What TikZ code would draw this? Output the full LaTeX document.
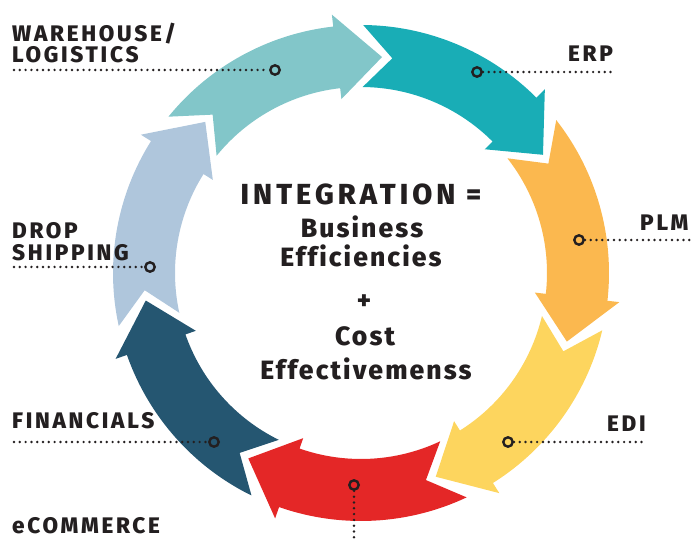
\documentclass[tikz,border=0pt]{standalone}
\usepackage{fontspec}
\setmainfont{Fira Sans}
\newfontfamily\lblfont{Fira Sans}[BoldFont={Fira Sans ExtraBold}, LetterSpace=12, Ligatures=NoCommon]
\newfontfamily\ctrfont{Fira Sans}[BoldFont={Fira Sans ExtraBold}, LetterSpace=8, Ligatures=NoCommon]
\newfontfamily\ctrcapfont{Fira Sans}[BoldFont={Fira Sans ExtraBold}, LetterSpace=14, Ligatures=NoCommon]
\definecolor{ink}{HTML}{231F20}
\definecolor{segWarehouse}{HTML}{82C6C9}
\definecolor{segErp}{HTML}{19ADB6}
\definecolor{segPlm}{HTML}{FBB84F}
\definecolor{segEdi}{HTML}{FDD55E}
\definecolor{segShop}{HTML}{E42727}
\definecolor{segFin}{HTML}{255671}
\definecolor{segDrop}{HTML}{AFC6DC}
% one curved arrow of the ring: #1 = tail angle, #2 = colour (runs clockwise)
\newcommand\ringseg[2]{%
  \fill[#2] (#1:248) arc[start angle=#1, end angle=#1-44.5, radius=248]
    -- (#1-44.5:260) -- (#1-56.5:217) -- (#1-44.5:175) -- (#1-44.5:186)
    arc[start angle=#1-44.5, end angle=#1, radius=186]
    -- (#1-7.8:217) -- cycle;}
\begin{document}
\begin{tikzpicture}[x=1pt,y=1pt,
  leader/.style={draw=ink, line width=2.7pt, line cap=round, dash pattern=on 0pt off 5.8pt},
  ringdot/.style={circle, draw=ink, line width=2.4pt, minimum size=9.4pt, inner sep=0pt},
  lbl/.style={anchor=base west, inner sep=0pt, text=ink, font=\lblfont\bfseries\fontsize{22.5}{22.5}\selectfont},
  ctr/.style={anchor=base, inner sep=0pt, text=ink, font=\ctrfont\bfseries\fontsize{26.5}{26.5}\selectfont},
  ctrbig/.style={ctr, font=\ctrcapfont\bfseries\fontsize{29}{29}\selectfont}]
\useasboundingbox (0,0) rectangle (691,544);
\coordinate (C) at (361,271);

% the ring of seven arrows
\begin{scope}[shift={(C)}]
  \ringseg{89.5}{segErp}
  \ringseg{38.07}{segPlm}
  \ringseg{-13.36}{segEdi}
  \ringseg{-64.79}{segShop}
  \ringseg{-116.21}{segFin}
  \ringseg{-167.64}{segDrop}
  \ringseg{140.93}{segWarehouse}
\end{scope}

% centre statement
\node[ctrbig] (tInt)  at (361,339) {INTEGRATION =};
\node[ctr]    (tBus)  at (362,306) {Business};
\node[ctr]    (tEff)  at (361,277) {Efficiencies};
\node[ctr, anchor=center] (tPlus) at (364,242) {+};
\node[ctr]    (tCost) at (365,198) {Cost};
\node[ctr]    (tCe)   at (366,164) {Effectivemenss};

% labels
\node[lbl, text depth=0pt] (lWh1) at (12,502) {WAREHOUSE/};
\node[lbl] (lWh2) at (12,481) {LOGISTICS};
\node[lbl] (lErp) at (568,482) {ERP};
\node[lbl] (lPlm) at (640,313) {PLM};
\node[lbl] (lDr1) at (12,305) {DROP};
\node[lbl] (lDr2) at (12,283) {SHIPPING};
\node[lbl] (lFin) at (12,116) {FINANCIALS};
\node[lbl] (lEdi) at (607,112) {EDI};
\node[lbl] (lEc)  at (12,11)  {eCOMMERCE};

% markers on the ring
\node[ringdot] (dWh)  at (275,474) {};
\node[ringdot] (dErp) at (477,472) {};
\node[ringdot] (dPlm) at (579,304) {};
\node[ringdot] (dDr)  at (150,277) {};
\node[ringdot] (dFin) at (214,102) {};
\node[ringdot] (dEdi) at (508,102) {};
\node[ringdot] (dEc)  at (354,59)  {};

% free ends of the leaders
\coordinate (eWh)  at (14,474);
\coordinate (eErp) at (616,472);
\coordinate (ePlm) at (690,304);
\coordinate (eDr)  at (14,277);
\coordinate (eFin) at (14,102);
\coordinate (eEdi) at (646,102);
\coordinate (eEc)  at (354,1);

\draw[leader] (eWh) -- (dWh);
\draw[leader] (dErp) -- (eErp);
\draw[leader] (dPlm) -- (ePlm);
\draw[leader] (eDr) -- (dDr);
\draw[leader] (eFin) -- (dFin);
\draw[leader] (dEdi) -- (eEdi);
\draw[leader] (dEc) -- (eEc);
\end{tikzpicture}
\end{document}
